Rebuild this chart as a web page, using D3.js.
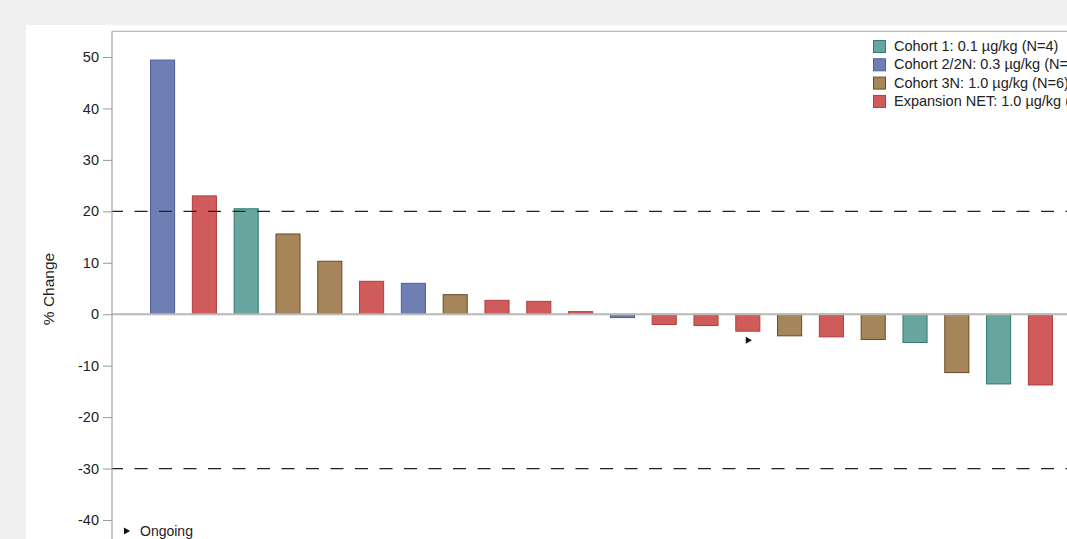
<!DOCTYPE html>
<html>
<head>
<meta charset="utf-8">
<script src="https://cdn.jsdelivr.net/npm/d3@7"></script>
<style>
  html, body { margin: 0; padding: 0; background: #f0f0f0; overflow: hidden; }
  svg { display: block; font-family: "Liberation Sans", Arial, sans-serif; }
</style>
</head>
<body>
<svg id="chart" width="1067" height="539"></svg>
<script>
// Best % change from baseline per patient, sorted descending
const pctChange = [49.4, 23.0, 20.5, 15.6, 10.3, 6.4, 6.0, 3.8, 2.7, 2.5, 0.5,
                   -0.65, -2.0, -2.2, -3.3, -4.2, -4.4, -4.9, -5.5, -11.35, -13.55, -13.75];
// Cohort index of each patient (matches cohortLabels order)
const cohortOf = [1, 3, 0, 2, 2, 3, 1, 2, 3, 3, 3, 1, 3, 3, 3, 2, 3, 2, 0, 2, 0, 3];
// Patients still on treatment
const ongoing = [false, false, false, false, false, false, false, false, false, false, false,
                 false, false, false, true, false, false, false, false, false, false, false];

const cohortLabels = [
  "Cohort 1: 0.1 µg/kg (N=4)",
  "Cohort 2/2N: 0.3 µg/kg (N=3)",
  "Cohort 3N: 1.0 µg/kg (N=6)",
  "Expansion NET: 1.0 µg/kg (N=10)"
];
const cohortFill   = ["#68a59e", "#6f7fb3", "#a6855a", "#d05b5b"];
const cohortStroke = ["#2f7a71", "#4d5d99", "#6a4a22", "#b03e3e"];

const yTicks = [-40, -30, -20, -10, 0, 10, 20, 30, 40, 50];
const refLines = [20, -30];

const svg = d3.select("#chart");
const W = 1067, H = 539;

// page background and white panel
svg.append("rect").attr("width", W).attr("height", H).attr("fill", "#f0f0f0");
svg.append("rect").attr("x", 26).attr("y", 25).attr("width", W - 26).attr("height", H - 25).attr("fill", "#ffffff");

const axisX = 112;
const y = d3.scaleLinear().domain([-40, 50]).range([520, 57]);
const x = d3.scaleBand()
  .domain(pctChange.map((d, i) => i))
  .range([axisX, 1091])
  .paddingInner(0.4)
  .paddingOuter(0.91);

const topY = y(55);

// frame top line
svg.append("line")
  .attr("x1", axisX).attr("x2", W).attr("y1", topY).attr("y2", topY)
  .attr("stroke", "#a8a8a8").attr("stroke-width", 1);

// bars
const data = pctChange.map((v, i) => ({ i, v, c: cohortOf[i], on: ongoing[i] }));
svg.append("g").selectAll("rect")
  .data(data)
  .join("rect")
  .attr("x", d => x(d.i) + 0.5)
  .attr("width", x.bandwidth() - 1)
  .attr("y", d => Math.min(y(d.v), y(0)))
  .attr("height", d => Math.abs(y(d.v) - y(0)))
  .attr("fill", d => cohortFill[d.c])
  .attr("stroke", d => cohortStroke[d.c])
  .attr("stroke-width", 1);

// zero line
svg.append("line")
  .attr("x1", axisX).attr("x2", W).attr("y1", y(0)).attr("y2", y(0))
  .attr("stroke", "#b8b8b8").attr("stroke-width", 2);

// reference lines at +20% and -30%
svg.append("g").selectAll("line")
  .data(refLines)
  .join("line")
  .attr("x1", axisX).attr("x2", W)
  .attr("y1", d => y(d)).attr("y2", d => y(d))
  .attr("stroke", "#222").attr("stroke-width", 1.2)
  .attr("stroke-dasharray", "13,11.5")
  .attr("stroke-dashoffset", 2);

// ongoing markers under bars
const tri = d3.symbol().type(d3.symbolTriangle).size(22);
svg.append("g").selectAll("path")
  .data(data.filter(d => d.on))
  .join("path")
  .attr("d", tri)
  .attr("transform", d => `translate(${x(d.i) + x.bandwidth() / 2},${Math.max(y(d.v), y(0)) + 9}) rotate(90)`)
  .attr("fill", "#111");

// y axis (plain hyphen for negative labels)
const yAxis = d3.axisLeft(y).tickValues(yTicks).tickSize(9).tickPadding(4)
  .tickFormat(d => String(d));
const gy = svg.append("g").attr("transform", `translate(${axisX},0)`).call(yAxis);
gy.select(".domain").remove();
gy.selectAll(".tick line").attr("stroke", "#999");
gy.selectAll(".tick text").attr("fill", "#222").style("font-size", "14.5px")
  .style("font-family", "'Liberation Sans', Arial, sans-serif");
svg.append("line")
  .attr("x1", axisX).attr("x2", axisX).attr("y1", topY).attr("y2", H)
  .attr("stroke", "#a0a0a0").attr("stroke-width", 1.2);

// y axis title
svg.append("text")
  .attr("transform", `translate(54,289) rotate(-90)`)
  .attr("text-anchor", "middle")
  .attr("fill", "#222")
  .style("font-size", "15.5px")
  .text("% Change");

// legend
const lg = svg.append("g").attr("transform", "translate(873,46)");
cohortLabels.forEach((lab, k) => {
  const row = lg.append("g").attr("transform", `translate(0,${k * 18.3})`);
  row.append("rect").attr("x", 0.5).attr("y", -5.5).attr("width", 12).attr("height", 12)
    .attr("fill", cohortFill[k]).attr("stroke", cohortStroke[k]).attr("stroke-width", 1);
  row.append("text").attr("x", 21).attr("y", 5).attr("fill", "#222")
    .style("font-size", "14.5px").text(lab);
});

// ongoing key
svg.append("path")
  .attr("d", tri)
  .attr("transform", "translate(126,531) rotate(90)")
  .attr("fill", "#111");
svg.append("text")
  .attr("x", 140).attr("y", 536)
  .attr("fill", "#222")
  .style("font-size", "14px")
  .text("Ongoing");
</script>
</body>
</html>
